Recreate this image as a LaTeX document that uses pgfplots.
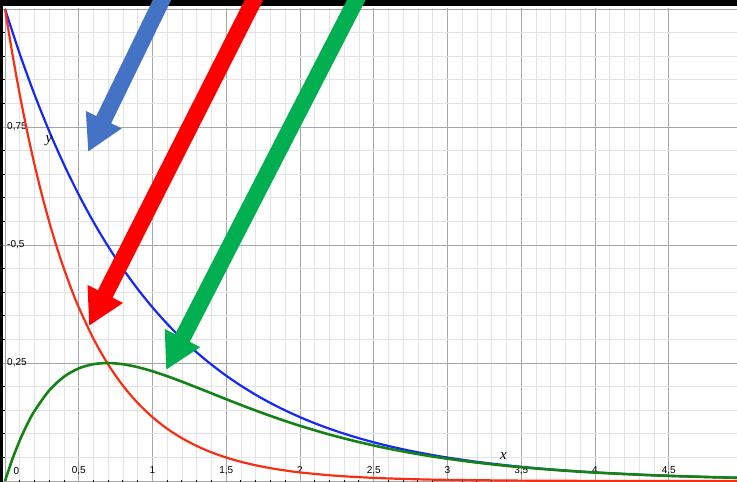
\documentclass[border=0pt]{standalone}
\usepackage{fontspec}
\setmainfont{Liberation Sans}
\newfontfamily\lserif{Liberation Serif}
\usepackage{pgfplots}
\pgfplotsset{compat=1.18}
\usetikzlibrary{arrows.meta}
\definecolor{cblue}{RGB}{20,40,250}
\definecolor{cred}{RGB}{250,45,20}
\definecolor{cgreen}{RGB}{20,130,20}
\definecolor{ablue}{RGB}{68,114,196}
\definecolor{ared}{RGB}{255,0,0}
\definecolor{agreen}{RGB}{0,176,80}
\begin{document}
\begin{tikzpicture}
\fill[black] (0pt,476pt) rectangle (737pt,482pt);
\fill[black] (0pt,0pt) rectangle (3pt,482pt);
\begin{axis}[
  scale only axis, width=734pt, height=474pt,
  at={(3pt,0pt)}, anchor=south west,
  xmin=-0.0136, xmax=4.963, ymin=-0.002, ymax=1.002,
  clip=false,
  axis line style={draw=none},
  xtick={0,0.5,1,1.5,2,2.5,3,3.5,4,4.5},
  xticklabels={{},{0,5},{1},{1,5},{2},{2,5},{3},{3,5},{4},{4,5}},
  ytick={0,0.25,0.5,0.75,1},
  yticklabels={{},{0,25},{-0,5},{0,75},{}},
  minor x tick num=4, minor y tick num=4,
  grid=both,
  major grid style={color=black!35, line width=0.8pt},
  minor grid style={color=black!11, line width=0.8pt},
  tick pos=left, tick align=inside,
  major tick length=0pt, minor tick length=2pt,
  minor tick style={black, line width=1pt},
  tick label style={font=\fontsize{10}{12}\selectfont, inner sep=0pt},
  xticklabel style={anchor=base, yshift=8pt},
  yticklabel style={anchor=west, xshift=4pt},
]
\addplot[cblue, line width=2.2pt, smooth] coordinates {
(0,1) (0.1,0.904837) (0.2,0.818731) (0.3,0.740818) (0.4,0.670320) (0.5,0.606531)
(0.6,0.548812) (0.7,0.496585) (0.8,0.449329) (0.9,0.406570) (1.0,0.367879)
(1.1,0.332871) (1.2,0.301194) (1.3,0.272532) (1.4,0.246597) (1.5,0.223130)
(1.6,0.201897) (1.7,0.182684) (1.8,0.165299) (1.9,0.149569) (2.0,0.135335)
(2.1,0.122456) (2.2,0.110803) (2.3,0.100259) (2.4,0.090718) (2.5,0.082085)
(2.6,0.074274) (2.7,0.067206) (2.8,0.060810) (2.9,0.055023) (3.0,0.049787)
(3.2,0.040762) (3.4,0.033373) (3.6,0.027324) (3.8,0.022371) (4.0,0.018316)
(4.2,0.014996) (4.4,0.012277) (4.6,0.010052) (4.8,0.008230) (4.963,0.006993)
};
\addplot[cred, line width=2.2pt, smooth] coordinates {
(0,1) (0.05,0.904837) (0.1,0.818731) (0.15,0.740818) (0.2,0.670320) (0.25,0.606531)
(0.3,0.548812) (0.35,0.496585) (0.4,0.449329) (0.45,0.406570) (0.5,0.367879)
(0.6,0.301194) (0.7,0.246597) (0.8,0.201897) (0.9,0.165299) (1.0,0.135335)
(1.1,0.110803) (1.2,0.090718) (1.3,0.074274) (1.4,0.060810) (1.5,0.049787)
(1.6,0.040762) (1.7,0.033373) (1.8,0.027324) (1.9,0.022371) (2.0,0.018316)
(2.2,0.012277) (2.4,0.008230) (2.6,0.005517) (2.8,0.003698) (3.0,0.002479)
(3.5,0.000912) (4.0,0.000335) (4.5,0.000123) (4.963,0.000049)
};
\addplot[cgreen, line width=2.6pt, smooth] coordinates {
(0,0) (0.05,0.046392) (0.1,0.086106) (0.15,0.119890) (0.2,0.148411) (0.3,0.192006)
(0.4,0.220991) (0.5,0.238652) (0.6,0.247618) (0.7,0.249988) (0.8,0.247432)
(0.9,0.241271) (1.0,0.232544) (1.1,0.222068) (1.2,0.210476) (1.3,0.198258)
(1.4,0.185787) (1.5,0.173343) (1.6,0.161135) (1.7,0.149311) (1.8,0.137975)
(1.9,0.127198) (2.0,0.117019) (2.2,0.098526) (2.4,0.082488) (2.6,0.068757)
(2.8,0.057112) (3.0,0.047308) (3.2,0.039100) (3.4,0.032259) (3.6,0.026577)
(3.8,0.021871) (4.0,0.017981) (4.4,0.012126) (4.8,0.008162) (4.963,0.006944)
};
% annotation arrows
\addplot[ablue, line width=16.5pt, -{Triangle[length=36pt,width=37pt]}] coordinates {(1.0841,1.0316) (0.5628,0.6969)};
\addplot[ared, line width=16.5pt, -{Triangle[length=36pt,width=37pt]}] coordinates {(1.7086,1.0316) (0.5695,0.3283)};
\addplot[agreen, line width=16.5pt, -{Triangle[length=36pt,width=37pt]}] coordinates {(2.4022,1.0316) (1.0916,0.2351)};
\node[anchor=base, inner sep=0pt, font=\fontsize{10}{12}\selectfont] at (axis cs:0.078,0.0148) {0};
\node[inner sep=0pt, font=\fontsize{15}{17}\selectfont\lserif\itshape] at (axis cs:0.298,0.720) {y};
\node[inner sep=0pt, font=\fontsize{15}{17}\selectfont\lserif\itshape] at (axis cs:3.380,0.053) {x};
\end{axis}
\pgfresetboundingbox
\useasboundingbox (0pt,0pt) rectangle (737pt,482pt);
\end{tikzpicture}
\end{document}
